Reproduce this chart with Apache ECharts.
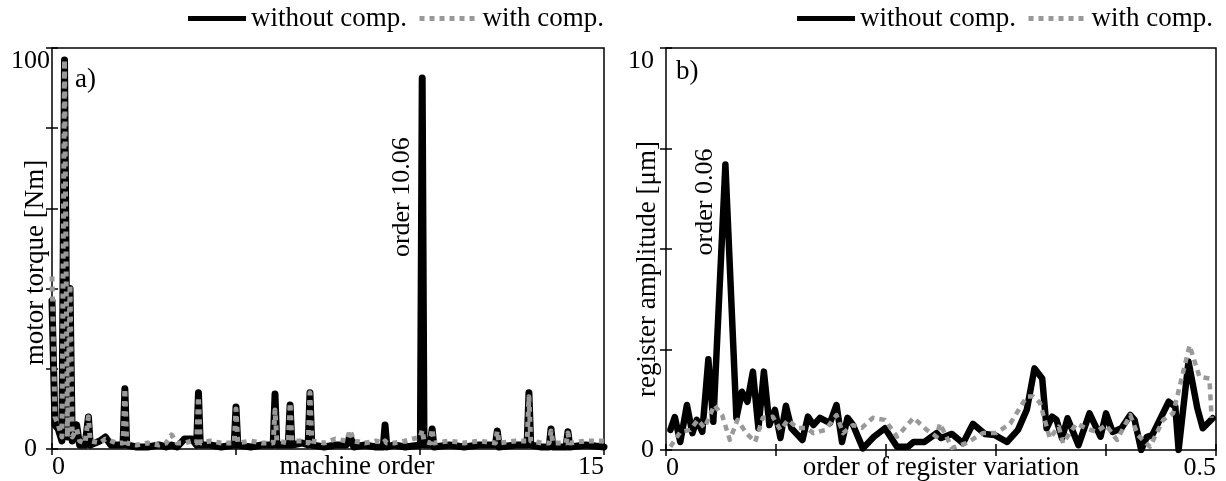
<!DOCTYPE html>
<html>
<head>
<meta charset="utf-8">
<script src="https://cdn.jsdelivr.net/npm/echarts@6.0.0/dist/echarts.min.js"></script>
<style>
html, body { margin: 0; padding: 0; background: #fff; }
#chart { width: 1226px; height: 481px; }
</style>
</head>
<body>
<div id="chart"></div>
<script>
// a) motor torque spectrum
var torqueOrders = [0, 0.08, 0.17, 0.27, 0.34, 0.42, 0.49, 0.55, 0.67, 0.75, 0.9, 0.99, 1.04, 1.3, 1.45, 1.6, 1.75, 1.93, 1.98, 2.03,
    2.3, 2.6, 2.9, 3.1, 3.25, 3.4, 3.6, 3.8, 3.93, 3.98, 4.03, 4.3, 4.6, 4.95, 5.0, 5.05, 5.4, 5.7, 6.01, 6.06,
    6.11, 6.42, 6.47, 6.52, 6.8, 6.96, 7.01, 7.06, 7.4, 7.7, 8.0, 8.1, 8.2, 8.5, 8.8, 9.0, 9.05, 9.1, 9.3, 9.6,
    10.01, 10.06, 10.11, 10.28, 10.33, 10.38, 10.8, 11.2, 11.6, 12.05, 12.1, 12.15, 12.6, 12.91, 12.96, 13.01, 13.3, 13.51, 13.56, 13.61,
    13.97, 14.02, 14.07, 14.5, 15];
var torqueWithout = [37, 6, 5, 2, 97, 3, 40, 2, 6, 1, 1, 8, 1, 2, 3, 1, 1, 1, 15, 1,
    0.5, 0.5, 1, 0.5, 1, 0.5, 2.5, 2.5, 1, 14, 1, 1, 0.5, 1, 10.5, 1, 0.5, 1, 1, 13.7,
    1, 1, 11, 1, 1.5, 1, 14, 1, 0.5, 1, 1, 3.2, 0.5, 1, 0.5, 0.5, 6, 0.5, 1, 0.5,
    1, 92.5, 1, 1, 5, 0.5, 1, 0.5, 1, 1, 4.5, 0.5, 1, 1, 14, 1, 0.5, 0.5, 5, 0.5,
    0.5, 4.3, 0.5, 1, 0.5];
var torqueWith = [43, 8, 6, 3, 97, 3, 41, 3, 5, 2, 1.5, 8, 2, 1.5, 2.5, 2, 1.5, 1.5, 15, 1.5,
    1, 1.5, 1, 1.5, 3.5, 1.5, 1.5, 2, 1.5, 13, 1.5, 2, 1.5, 1.5, 10, 1.5, 2, 1.5, 1.5, 9.7,
    2, 1.5, 11.5, 2, 2, 1.5, 14, 2, 1.5, 2.5, 2, 4.7, 2, 1.5, 2, 1.5, 2, 1.5, 1.5, 2,
    3, 4.7, 2, 1.5, 5, 1.5, 2, 1.5, 2, 1.5, 4.5, 1.5, 2, 2, 13, 2, 1.5, 1.5, 4.5, 1.5,
    1.5, 4, 1.5, 2, 2];

// b) register variation spectrum
var registerOrdersWithout = [0.004, 0.008, 0.013, 0.019, 0.024, 0.028, 0.033, 0.0385, 0.043, 0.054, 0.064, 0.069, 0.074, 0.079, 0.084, 0.089, 0.094, 0.099, 0.104, 0.109,
    0.114, 0.124, 0.129, 0.134, 0.140, 0.149, 0.155, 0.160, 0.165, 0.170, 0.179, 0.189, 0.199, 0.21, 0.22, 0.225, 0.235, 0.246, 0.25, 0.26,
    0.27, 0.279, 0.29, 0.299, 0.31, 0.32, 0.328, 0.335, 0.342, 0.346, 0.351, 0.355, 0.36, 0.365, 0.375, 0.385, 0.395, 0.4, 0.406, 0.414,
    0.422, 0.426, 0.432, 0.437, 0.442, 0.457, 0.463, 0.466, 0.475, 0.483, 0.488, 0.497];
var registerWithout = [0.5, 0.82, 0.2, 1.12, 0.42, 0.75, 0.45, 2.26, 0.7, 7.1, 0.8, 1.45, 1.2, 1.95, 0.54, 1.95, 0.62, 1.0, 0.3, 1.1,
    0.54, 0.25, 0.83, 0.62, 0.8, 0.67, 1.12, 0.2, 0.8, 0.62, 0.04, 0.33, 0.54, 0.08, 0.08, 0.2, 0.2, 0.42, 0.3, 0.4,
    0.17, 0.65, 0.4, 0.37, 0.2, 0.5, 1.0, 2.03, 1.78, 0.54, 0.83, 0.75, 0.29, 0.79, 0.12, 0.91, 0.33, 0.91, 0.45, 0.54,
    0.87, 0.75, 0.0, 0.32, 0.37, 1.2, 1.08, 0.0, 2.2, 1.04, 0.54, 0.79];
var registerOrdersWith = [0.004, 0.013, 0.022, 0.029, 0.035, 0.044, 0.051, 0.058, 0.065, 0.073, 0.081, 0.088, 0.097, 0.104, 0.111, 0.119, 0.128, 0.134, 0.145, 0.155,
    0.161, 0.17, 0.178, 0.188, 0.199, 0.21, 0.225, 0.237, 0.246, 0.249, 0.26, 0.273, 0.288, 0.3, 0.313, 0.328, 0.334, 0.34, 0.349, 0.357,
    0.361, 0.373, 0.382, 0.391, 0.4, 0.41, 0.422, 0.429, 0.44, 0.452, 0.461, 0.476, 0.485, 0.494, 0.496];
var registerWith = [0.08, 0.45, 0.5, 0.75, 0.55, 1.12, 0.87, 0.25, 0.75, 0.42, 0.2, 0.8, 0.83, 0.5, 0.75, 0.55, 0.55, 0.42, 0.5, 0.87,
    0.42, 0.62, 0.55, 0.8, 0.75, 0.33, 0.8, 0.5, 0.33, 0.66, 0.05, 0.17, 0.42, 0.42, 0.66, 1.33, 1.33, 1.17, 0.29, 0.58,
    0.17, 0.66, 0.54, 0.45, 0.62, 0.25, 0.87, 0.37, 0.08, 0.75, 0.91, 2.6, 1.82, 1.78, 0.8];

var seriesNames = ['without comp.', 'with comp.'];
var torqueTickLabels = [0, 15];
var torqueValueLabels = [0, 100];
var registerTickLabels = [0, 0.5];
var registerValueLabels = [0, 10];

var font = 'Liberation Serif';
var grey = '#999999';

function pairs(xs, ys) {
    var list = [];
    for (var i = 0; i < xs.length; i++) {
        list.push([xs[i], ys[i]]);
    }
    return list;
}

function onlyLabels(allowed) {
    return function (value) {
        for (var i = 0; i < allowed.length; i++) {
            if (Math.abs(value - allowed[i]) < 1e-9) {
                return String(allowed[i]);
            }
        }
        return '';
    };
}

function frameAxis(gridIndex, position, min, max, interval) {
    return {
        type: 'value',
        gridIndex: gridIndex,
        position: position,
        min: min,
        max: max,
        interval: interval,
        axisLine: {show: false},
        axisTick: {show: true, inside: true, length: 6, lineStyle: {color: '#000', width: 1.5}},
        axisLabel: {show: false},
        splitLine: {show: false}
    };
}

function legendFor(right) {
    return {
        data: seriesNames,
        right: right,
        top: 0,
        itemWidth: 58,
        itemHeight: 24,
        itemGap: 10,
        itemTextGap: 11,
        itemStyle: {opacity: 0},
        lineStyle: {width: 5, cap: 'butt'},
        textStyle: {fontFamily: font, fontSize: 27, color: '#000'}
    };
}

var labelStyle = {fontFamily: font, fontSize: 26, color: '#000'};

var chart = echarts.init(document.getElementById('chart'));
var option = {
    animation: false,
    backgroundColor: '#fff',
    textStyle: {fontFamily: font},
    legend: [legendFor(617), legendFor(8)],
    title: [
        {text: 'a)', left: 70, top: 61, textStyle: {fontFamily: font, fontSize: 27, fontWeight: 'normal', color: '#000'}},
        {text: 'b)', left: 671, top: 53, textStyle: {fontFamily: font, fontSize: 27, fontWeight: 'normal', color: '#000'}}
    ],
    grid: [
        {left: 52, right: 622, top: 48, bottom: 32, show: true, borderColor: '#000', borderWidth: 1.5, backgroundColor: 'transparent', outerBoundsMode: 'none'},
        {left: 666, right: 10, top: 48, bottom: 31, show: true, borderColor: '#000', borderWidth: 1.5, backgroundColor: 'transparent', outerBoundsMode: 'none'}
    ],
    xAxis: [
        {
            type: 'value', gridIndex: 0, position: 'bottom', min: 0, max: 15, interval: 5,
            name: 'machine order', nameLocation: 'middle', nameGap: 4, nameMoveOverlap: false,
            nameTextStyle: {fontFamily: font, fontSize: 27, color: '#000', verticalAlign: 'top', padding: [0, 0, 0, 58]},
            axisLine: {show: false},
            axisTick: {show: true, inside: true, length: 6, lineStyle: {color: '#000', width: 1.5}},
            axisLabel: Object.assign({margin: 5, formatter: onlyLabels(torqueTickLabels), alignMinLabel: 'left', alignMaxLabel: 'right'}, labelStyle),
            splitLine: {show: false}
        },
        frameAxis(0, 'top', 0, 15, 5),
        {
            type: 'value', gridIndex: 1, position: 'bottom', min: 0, max: 0.5, interval: 0.1,
            name: 'order of register variation', nameLocation: 'middle', nameGap: 4, nameMoveOverlap: false,
            nameTextStyle: {fontFamily: font, fontSize: 27, color: '#000', verticalAlign: 'top'},
            axisLine: {show: false},
            axisTick: {show: true, inside: true, length: 6, lineStyle: {color: '#000', width: 1.5}},
            axisLabel: Object.assign({margin: 5, formatter: onlyLabels(registerTickLabels), alignMinLabel: 'left', alignMaxLabel: 'right'}, labelStyle),
            splitLine: {show: false}
        },
        frameAxis(1, 'top', 0, 0.5, 0.1)
    ],
    yAxis: [
        {
            type: 'value', gridIndex: 0, position: 'left', min: 0, max: 100, interval: 20,
            name: 'motor torque [Nm]', nameLocation: 'middle', nameGap: 3, nameMoveOverlap: false,
            nameTextStyle: {fontFamily: font, fontSize: 27, color: '#000', padding: [0, 28, 0, 0]},
            axisLine: {show: false},
            axisTick: {show: true, inside: true, length: 6, lineStyle: {color: '#000', width: 1.5}},
            axisLabel: Object.assign({
                margin: 2,
                verticalAlignMaxLabel: 'top',
                formatter: function (value) {
                    if (value === torqueValueLabels[0]) return '{z|' + value + '}';
                    if (value === torqueValueLabels[1]) return String(value);
                    return '';
                },
                rich: {z: {fontFamily: font, fontSize: 26, color: '#000', padding: [0, 13, 0, 0]}}
            }, labelStyle),
            splitLine: {show: false}
        },
        frameAxis(0, 'right', 0, 100, 20),
        {
            type: 'value', gridIndex: 1, position: 'left', min: 0, max: 10, interval: 2.5,
            name: 'register amplitude [μm]', nameLocation: 'middle', nameGap: 5, nameMoveOverlap: false,
            nameTextStyle: {fontFamily: font, fontSize: 27, color: '#000', padding: [0, 40, 0, 0]},
            axisLine: {show: false},
            axisTick: {show: true, inside: true, length: 6, lineStyle: {color: '#000', width: 1.5}},
            axisLabel: Object.assign({margin: 12, verticalAlignMaxLabel: 'top', formatter: onlyLabels(registerValueLabels)}, labelStyle),
            splitLine: {show: false}
        },
        frameAxis(1, 'right', 0, 10, 2.5)
    ],
    series: [
        {
            name: seriesNames[0], type: 'line', xAxisIndex: 0, yAxisIndex: 0,
            data: pairs(torqueOrders, torqueWithout),
            symbol: 'none', color: '#000',
            lineStyle: {color: '#000', width: 7, cap: 'round', join: 'round'},
            markPoint: {
                symbolSize: 0,
                label: {show: true, position: 'inside', rotate: 90, formatter: 'order 10.06', fontFamily: font, fontSize: 26, color: '#000'},
                data: [{coord: [9.51, 62.8]}]
            }
        },
        {
            name: seriesNames[1], type: 'line', xAxisIndex: 0, yAxisIndex: 0,
            data: pairs(torqueOrders, torqueWith),
            symbol: 'none', color: grey,
            lineStyle: {color: grey, width: 5, type: [5, 5], cap: 'butt', join: 'round'}
        },
        {
            name: seriesNames[0], type: 'line', xAxisIndex: 2, yAxisIndex: 2,
            data: pairs(registerOrdersWithout, registerWithout),
            symbol: 'none', color: '#000',
            lineStyle: {color: '#000', width: 6.5, cap: 'round', join: 'round'},
            markPoint: {
                symbolSize: 0,
                label: {show: true, position: 'inside', rotate: 90, formatter: 'order 0.06', fontFamily: font, fontSize: 26, color: '#000'},
                data: [{coord: [0.0355, 6.17]}]
            }
        },
        {
            name: seriesNames[1], type: 'line', xAxisIndex: 2, yAxisIndex: 2,
            data: pairs(registerOrdersWith, registerWith),
            symbol: 'none', color: grey,
            lineStyle: {color: grey, width: 4.5, type: [6, 5], cap: 'butt', join: 'round'}
        }
    ]
};
chart.setOption(option);
</script>
</body>
</html>
